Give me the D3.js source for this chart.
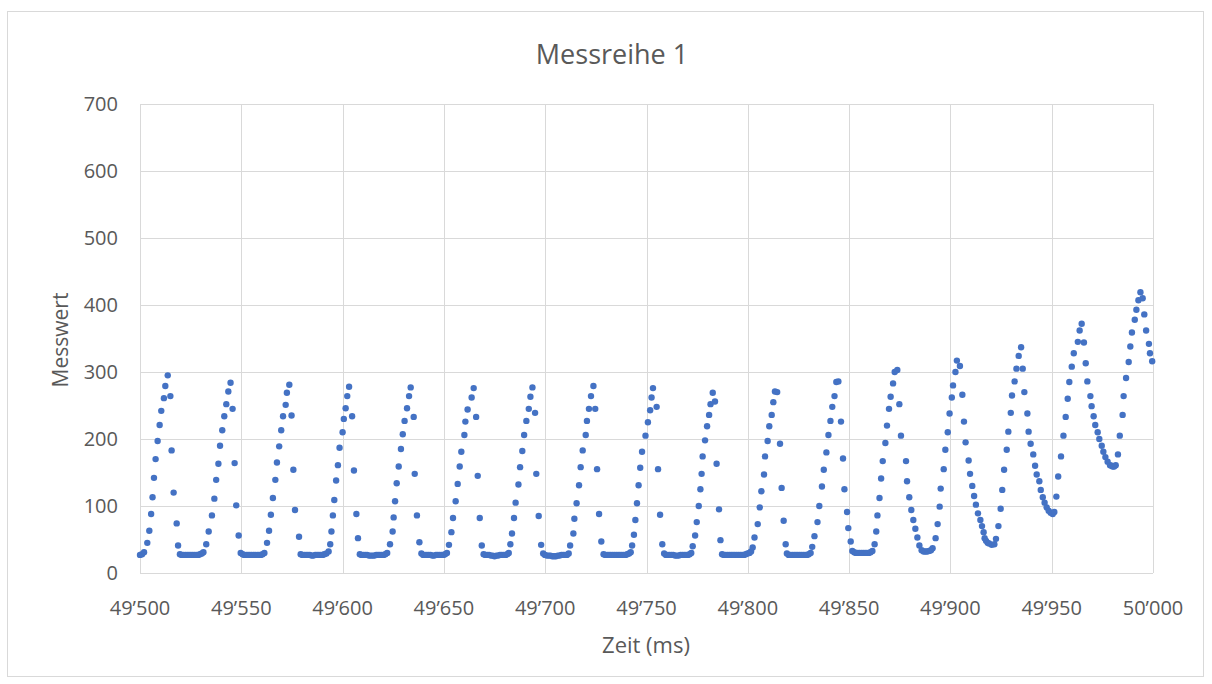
<!DOCTYPE html>
<html>
<head>
<meta charset="utf-8">
<script src="https://cdn.jsdelivr.net/npm/d3@7"></script>
<style>
    body { margin: 0; background: #ffffff; }
    svg { display: block; font-family: "Open Sans", "Noto Sans", sans-serif; }
</style>
</head>
<body>
<svg id="chart" width="1212" height="684"></svg>
<script>
// Messreihe 1: [Zeit seit 49'500 ms, Messwert], one array per 50 ms block
const startZeit = 49500;

const block0 = [[0,27],[1,28],[2,31],[3.6,45],[4.6,63],[5.5,88],[6.2,113],[6.9,142],[7.7,170],[8.7,197],[9.7,221],[10.5,242],[11.8,261],[12.5,279],[13.7,295],[15,264],[15.6,183],[16.6,120],[18.1,74],[18.8,41],
    [19.7,28],[20.6,27],[21.5,27],[22.4,27],[23.3,27],[24.2,27],[25.1,27],[26,27],[26.9,27],[27.8,27],[28.7,27],[29.6,28],[30.5,29],[31.3,31],
    [32.7,43],[33.9,62],[35.5,86],[36.7,111],[37.6,139],[38.7,163],[39.5,190],[40.6,213],[41.6,234],[42.6,252],[43.6,271],[44.7,284],[45.7,245],[46.7,164],[47.5,101],[48.7,56],[49.7,30]];

const block1 = [[50.6,28],[51.5,27],[52.4,27],[53.3,27],[54.2,27],[55.1,27],[56,27],[56.9,27],[57.8,27],[58.7,27],[59.6,27],[60.5,28],[61.4,30],
    [62.7,45],[63.7,63],[64.6,87],[65.6,112],[66.8,139],[67.6,165],[68.7,189],[69.7,213],[70.6,234],[71.9,251],[72.5,269],[73.7,281],[74.8,235],[75.7,154],[76.5,94],[78.5,54],
    [79.3,28],[80.2,27],[81.1,27],[82,27],[82.9,27],[83.8,27],[84.7,26],[85.6,26],[86.5,27],[87.4,27],[88.3,27],[89.2,27],[90.1,27],[91,28],[92,29],
    [93.1,32],[93.9,43],[94.5,62],[95.2,86],[95.9,109],[96.8,138],[97.7,161],[98.5,187],[100,210]];

const block2 = [[100.6,230],[101.5,246],[102.3,264],[103.2,278],[104.7,234],[105.6,153],[106.8,88],[107.6,52],
    [108.5,28],[109.4,27],[110.3,27],[111.2,27],[112.1,27],[113,26],[113.9,26],[114.8,26],[115.7,26],[116.6,27],[117.5,27],[118.4,27],[119.3,27],[120.2,27],[121.1,28],[122,30],
    [123.4,43],[124.7,62],[125.2,83],[125.9,107],[126.7,134],[127.7,159],[128.8,185],[129.7,207],[130.6,227],[131.8,246],[132.8,264],[133.6,277],[135.1,233],[135.6,148],[136.7,86],[137.9,46],
    [138.9,29],[139.8,27],[140.7,27],[141.6,27],[142.5,27],[143.4,27],[144.3,26],[145.2,26],[146.1,27],[147,27],[147.9,27],[148.8,27],[149.7,27]];

const block3 = [[150.6,28],[151.5,30],[152.5,42],[153.7,61],[154.5,82],[155.8,107],[156.8,133],[157.8,159],[158.6,181],[160.1,206],[160.6,226],[161.7,244],[163.7,262],[164.7,276],[165.9,233],[166.7,145],[167.7,82],[168.7,41],
    [169.6,28],[170.5,27],[171.4,27],[172.3,27],[173.2,26],[174.1,26],[175,25],[175.9,26],[176.8,26],[177.7,27],[178.6,27],[179.5,27],[180.4,27],[181.3,28],[182,30],
    [182.8,43],[183.6,59],[184.6,82],[185.4,105],[186.8,132],[187.6,158],[188.7,182],[189.6,206],[190.7,227],[191.9,245],[192.7,263],[193.7,277],[195,239],[195.6,148],[196.8,85],[198,42],[199,29]];

const block4 = [[199.9,27],[200.8,26],[201.7,26],[202.6,26],[203.5,25],[204.4,25],[205.3,25],[206.2,26],[207.1,26],[208,27],[208.9,27],[209.8,27],[210.7,27],[211.6,29],
    [212.3,41],[213.9,59],[214.4,81],[215.5,104],[216.7,131],[217.5,158],[218.5,183],[220,206],[220.6,227],[221.6,245],[222.6,264],[223.8,279],[224.7,245],[225.6,155],[226.6,88],[227.7,47],
    [228.8,28],[229.7,27],[230.6,27],[231.5,27],[232.4,27],[233.3,27],[234.2,27],[235.1,27],[236,27],[236.9,27],[237.8,27],[238.7,27],[239.6,27],[240.5,28],[241.4,29],[242.2,31],
    [242.9,41],[243.8,57],[244.5,79],[245.3,104],[246.1,131],[246.9,157],[247.8,181],[249.5,205]];

const block5 = [[250.7,225],[251.8,243],[252.5,262],[253.2,276],[255,248],[255.7,155],[256.7,87],[257.8,43],
    [258.7,29],[259.6,27],[260.5,27],[261.4,27],[262.3,27],[263.2,27],[264.1,26],[265,26],[265.9,26],[266.8,27],[267.7,27],[268.6,27],[269.5,27],[270.4,27],[271.3,28],[272.1,30],
    [272.8,40],[274,56],[274.8,76],[275.8,100],[276.6,125],[277.2,148],[277.7,174],[278.9,198],[279.9,219],[280.9,236],[281.6,252],[282.7,269],[283.8,256],[284.6,163],[285.8,95],[286.5,49],
    [287.3,28],[288.2,27],[289.1,27],[290,27],[290.9,27],[291.8,27],[292.7,27],[293.6,27],[294.5,27],[295.4,27],[296.3,27],[297.2,27],[298.1,27],[299,28],[299.9,29]];

const block6 = [[300.8,30],[301.6,32],[302.4,38],[303.3,53],[304.9,73],[305.9,98],[306.7,122],[308,147],[308.5,174],[309.8,197],[310.6,219],[311.8,236],[312.6,255],[313.4,271],[314.5,270],[315.9,193],[316.7,127],[317.7,78],[318.7,43],
    [319.3,29],[320.2,27],[321.1,27],[322,27],[322.9,27],[323.8,27],[324.7,27],[325.6,27],[326.5,27],[327.4,27],[328.3,27],[329.2,27],[330.1,28],[331,30],
    [331.8,39],[332.9,55],[334.4,76],[335.3,100],[336.6,129],[337.5,154],[338.8,180],[339.8,206],[340.8,227],[341.7,248],[342.8,264],[343.7,285],[344.7,286],[346,226],[347,171],[347.7,125],[349,91],[349.6,67]];

const block7 = [[350.8,47],[351.6,33],[352.5,31],[353.4,30],[354.3,30],[355.2,30],[356.1,30],[357,30],[357.9,30],[358.8,30],[359.7,30],[360.6,31],[361.5,33],
    [362.6,43],[363.4,62],[364,86],[365,112],[365.8,141],[366.6,167],[367.9,194],[368.7,220],[369.7,245],[370.5,263],[371.7,283],[372.5,300],[373.8,303],[374.8,252],[375.6,205],
    [378.1,167],[378.6,137],[379.7,113],[380.7,94],[381.7,79],[382.7,66],[383.7,53],[384.7,41],[385.8,34],[386.8,32],[387.7,32],[388.6,32],[389.5,33],[390.4,34],[391.2,37],
    [392.7,52],[393.7,73],[394.7,99],[395.2,126],[396.7,155],[397.5,184],[398.7,210],[399.6,238]];

const block8 = [[400.7,262],[401.3,280],[402.5,300],[403.2,317],[404.7,309],[405.9,266],[406.7,226],[407.5,195],[409,168],[409.7,148],[410.8,130],[411.7,115],[412.6,102],[413.6,89],[414.8,79],[415.6,70],[416.4,61],[416.9,52],[417.6,48],[418.4,45],[419.1,44],[420.4,42],[421.7,43],
    [422.5,51],[423.7,70],[424.8,96],[425.6,124],[426.5,154],[427.8,184],[428.6,211],[429.8,239],[430.4,265],[431.7,286],[432.6,305],[433.7,324],[434.9,337],[435.7,305],[436.5,270],[438,238],[438.6,211],[439.6,193],[440.9,177],[441.8,160],[442.6,147],[443.9,137],[444.6,124],[445.6,113],[446.5,105],[447.5,98],[448.5,93],[449.5,90]];

const block9 = [[450.5,88],[451.3,91],[452.3,114],[453.2,144],[454.6,174],[455.8,205],[456.9,233],[457.9,260],[458.7,285],[459.9,308],[460.9,328],[462.9,345],[463.8,362],[464.8,372],[465.9,344],[466.8,313],[467.6,286],[469.1,264],[469.7,249],[470.7,234],[471.5,221],[472.7,210],[473.5,200],[474.7,190],[475.5,181],[476.5,173],[477.6,166],[478.8,161],[479.5,160],[480.1,159],[480.8,159],[481.6,161],
    [482.7,177],[483.6,205],[485,236],[485.5,264],[486.7,291],[488,315],[488.8,338],[489.6,359],[491,378],[491.8,393],[492.8,407],[493.8,419],[494.9,410],[495.7,386],[496.6,362],[498,342],[498.5,328],[499.6,316]];

const xTicks = [49500, 49550, 49600, 49650, 49700, 49750, 49800, 49850, 49900, 49950, 50000];
const yTicks = [0, 100, 200, 300, 400, 500, 600, 700];

const titel = "Messreihe 1";
const xTitel = "Zeit (ms)";
const yTitel = "Messwert";

let punkte = [].concat(block0, block1, block2, block3, block4, block5, block6, block7, block8, block9)
    .map(d => ({ zeit: startZeit + d[0], wert: d[1] }));

function drawChart() {
    let svg = d3.select("#chart");
    let textColor = "#595959";
    let gridColor = "#d9d9d9";

    // chart frame
    svg.append("rect")
        .attr("x", 7.5).attr("y", 11.5)
        .attr("width", 1196).attr("height", 665)
        .attr("fill", "#ffffff")
        .attr("stroke", gridColor)
        .attr("stroke-width", 1);

    let x = d3.scaleLinear().domain([49500, 50000]).range([140, 1153]);
    let y = d3.scaleLinear().domain([0, 700]).range([573, 104]);

    // 49'500 style labels
    let fmt = d3.formatLocale({ decimal: ".", thousands: "\u2019", grouping: [3], currency: ["", ""] }).format(",");

    // grid lines
    svg.append("g")
        .attr("transform", "translate(0,573)")
        .call(d3.axisBottom(x).tickValues(xTicks).tickSize(-469).tickFormat(""))
        .call(g => g.select(".domain").remove())
        .selectAll("line")
        .attr("stroke", gridColor)
        .attr("shape-rendering", "crispEdges");

    svg.append("g")
        .attr("transform", "translate(140,0)")
        .call(d3.axisLeft(y).tickValues(yTicks).tickSize(-1013).tickFormat(""))
        .call(g => g.select(".domain").remove())
        .selectAll("line")
        .attr("stroke", gridColor)
        .attr("shape-rendering", "crispEdges");

    // tick labels
    svg.append("g")
        .selectAll("text")
        .data(xTicks)
        .enter()
        .append("text")
        .attr("x", d => x(d))
        .attr("y", 615)
        .attr("text-anchor", "middle")
        .attr("fill", textColor)
        .attr("font-size", 20)
        .text(d => fmt(d));

    svg.append("g")
        .selectAll("text")
        .data(yTicks)
        .enter()
        .append("text")
        .attr("x", 118)
        .attr("y", d => y(d))
        .attr("dy", 7)
        .attr("text-anchor", "end")
        .attr("fill", textColor)
        .attr("font-size", 20)
        .text(d => d);

    // points
    svg.append("g")
        .selectAll("circle")
        .data(punkte)
        .enter()
        .append("circle")
        .attr("cx", d => x(d.zeit))
        .attr("cy", d => y(d.wert))
        .attr("r", 3.2)
        .attr("fill", "#4472c4");

    // titles
    svg.append("text")
        .attr("x", 612).attr("y", 64)
        .attr("text-anchor", "middle")
        .attr("fill", textColor)
        .attr("font-size", 27)
        .text(titel);

    svg.append("text")
        .attr("x", 646).attr("y", 653)
        .attr("text-anchor", "middle")
        .attr("fill", textColor)
        .attr("font-size", 22)
        .text(xTitel);

    svg.append("text")
        .attr("transform", "translate(68,340) rotate(-90)")
        .attr("text-anchor", "middle")
        .attr("fill", textColor)
        .attr("font-size", 21)
        .text(yTitel);
}

drawChart();
</script>
</body>
</html>
